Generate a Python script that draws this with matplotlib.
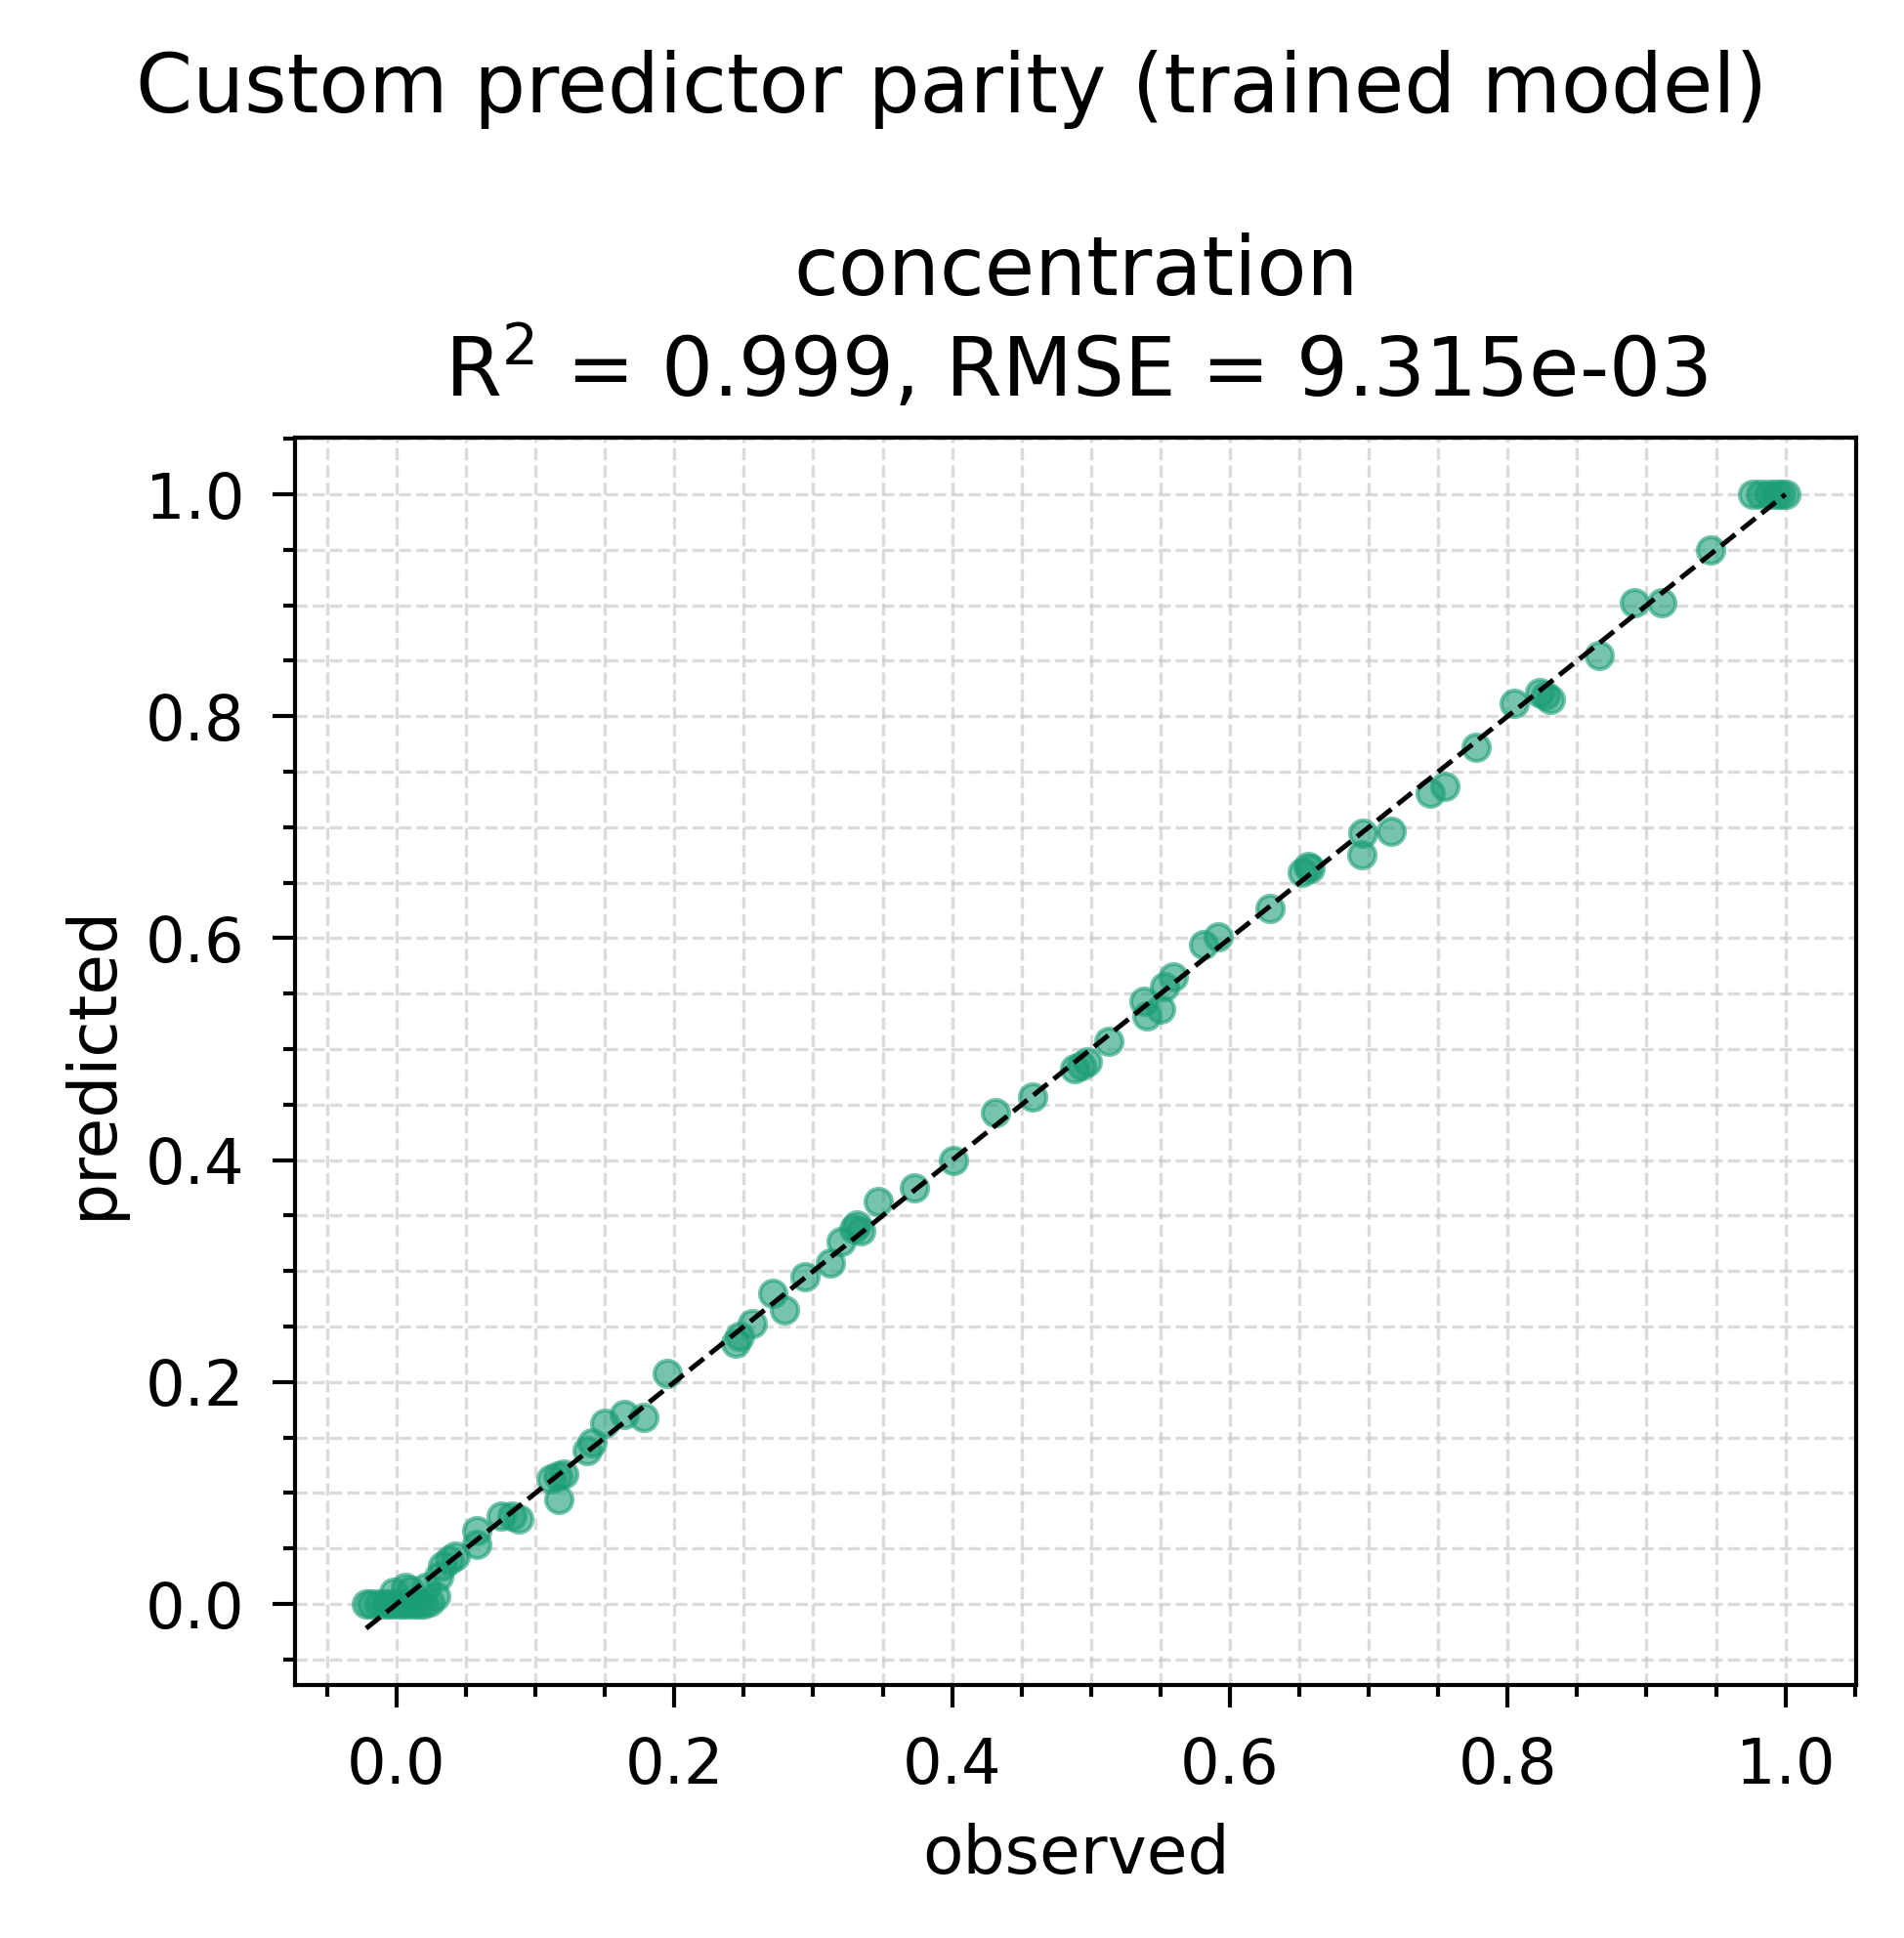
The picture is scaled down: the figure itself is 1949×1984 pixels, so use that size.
import numpy as np
import matplotlib
matplotlib.use("Agg")
import matplotlib.pyplot as plt
from matplotlib.ticker import AutoMinorLocator

# observed vs predicted values
observed = [
    -0.022, -0.018, -0.013, -0.008, -0.004, 0.000, 0.004, 0.008, 0.012, 0.016,
    0.020, 0.024, -0.002, 0.006, 0.010, 0.021, 0.028, 0.030, 0.033, 0.038, 0.042,
    0.0575, 0.0575, 0.075, 0.083, 0.088,
    0.111, 0.116, 0.117, 0.120,
    0.137, 0.141, 0.150, 0.164, 0.178, 0.195,
    0.244, 0.247, 0.256, 0.271, 0.279, 0.294,
    0.312, 0.320, 0.329, 0.334, 0.331, 0.347, 0.373, 0.401,
    0.431, 0.458, 0.488, 0.493, 0.497, 0.513,
    0.540, 0.538, 0.550, 0.553, 0.559, 0.581, 0.5915,
    0.629, 0.652, 0.656, 0.658, 0.695, 0.696, 0.716,
    0.744, 0.755, 0.777, 0.805, 0.823, 0.827, 0.831, 0.866, 0.891, 0.911, 0.946,
    0.9765, 0.982, 0.988, 0.993, 0.997, 1.000,
]
predicted = [
    0.000, 0.000, 0.000, 0.000, 0.000, 0.000, 0.000, 0.000, 0.000, 0.000,
    0.000, 0.002, 0.011, 0.015, 0.012, 0.015, 0.007, 0.025, 0.034, 0.040, 0.043,
    0.066, 0.054, 0.079, 0.079, 0.077,
    0.113, 0.115, 0.094, 0.117,
    0.138, 0.145, 0.163, 0.171, 0.168, 0.208,
    0.235, 0.241, 0.253, 0.280, 0.265, 0.295,
    0.307, 0.327, 0.338, 0.336, 0.342, 0.363, 0.375, 0.400,
    0.443, 0.457, 0.4825, 0.485, 0.489, 0.5075,
    0.530, 0.543, 0.536, 0.556, 0.565, 0.594, 0.6015,
    0.627, 0.659, 0.665, 0.663, 0.675, 0.695, 0.696,
    0.731, 0.737, 0.772, 0.812, 0.821, 0.819, 0.815, 0.855, 0.902, 0.902, 0.950,
    1.000, 1.000, 1.000, 1.000, 1.000, 1.000,
]
target_name = "concentration"
r2_text = "0.999"
rmse_text = "9.315e-03"

obs = np.array(observed)
pred = np.array(predicted)

fig = plt.figure(figsize=(1949 / 300, 1984 / 300), dpi=300)
ax = fig.add_axes([0.155, 0.1305, 0.820, 0.6437])

ax.scatter(obs, pred, s=42, color="#1b9e77", alpha=0.6, linewidths=1.0, zorder=3)
lo = min(obs.min(), pred.min())
hi = max(obs.max(), pred.max())
ax.plot([lo, hi], [lo, hi], "k--", lw=1.2, zorder=4)

ax.xaxis.set_minor_locator(AutoMinorLocator())
ax.yaxis.set_minor_locator(AutoMinorLocator())
ax.grid(True, which="both", linestyle="--", color="#cccccc", alpha=0.7, linewidth=0.8)
ax.set_axisbelow(True)

ax.tick_params(which="major", length=5.5, width=1.0, labelsize=15.3, pad=7)
ax.tick_params(which="minor", length=2.9, width=1.0)
for sp in ax.spines.values():
    sp.set_linewidth(1.0)

ax.set_xlabel("observed", fontsize=16.3, labelpad=6.5)
ax.set_ylabel("predicted", fontsize=16.3, labelpad=5)
ax.set_title(f"{target_name}\nR$^2$ = {r2_text}, RMSE = {rmse_text}", fontsize=20, pad=10)
fig.suptitle("Custom predictor parity (trained model)", fontsize=20, y=0.954, va="center")

fig.savefig("out.png", dpi=300)
